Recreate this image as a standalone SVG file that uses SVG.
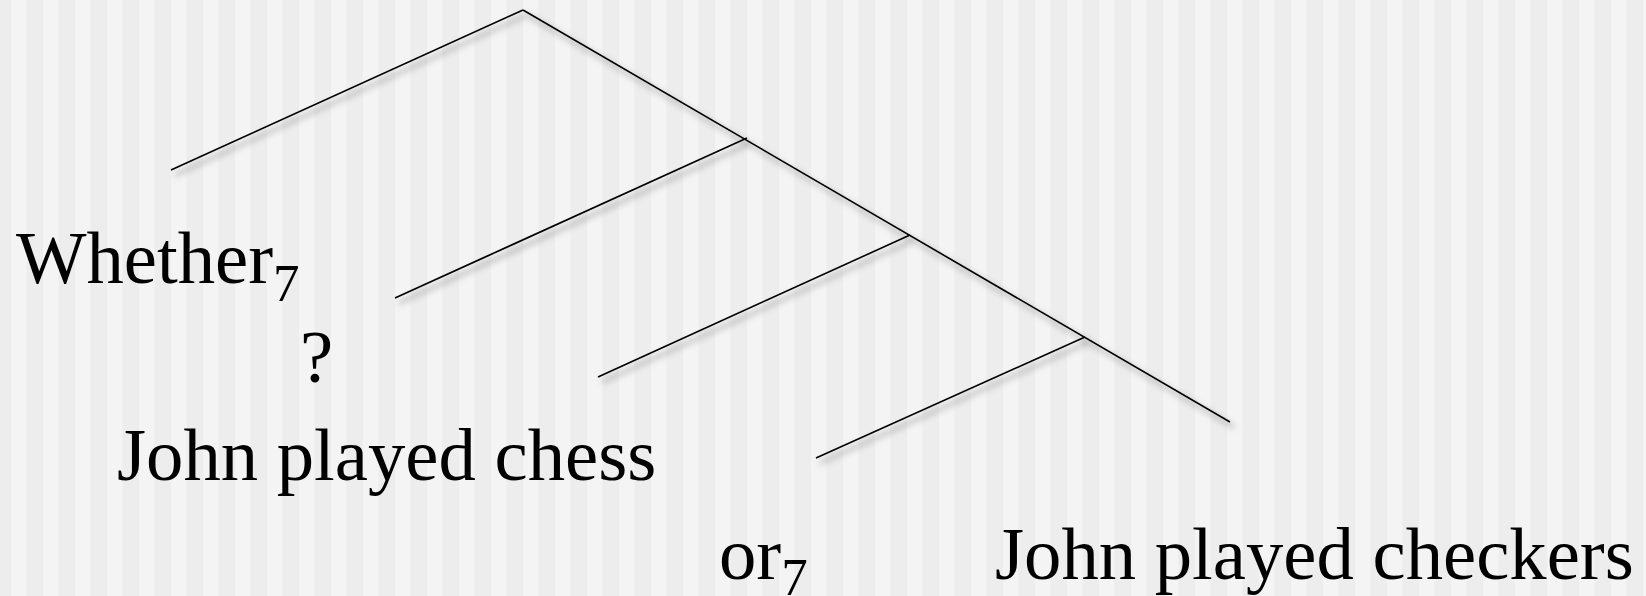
<svg xmlns="http://www.w3.org/2000/svg" width="1646" height="596" viewBox="0 0 1646 596">
  <defs>
    <pattern id="stripes" patternUnits="userSpaceOnUse" x="0" y="0" width="32" height="596">
      <rect x="0" y="0" width="32" height="596" fill="#ededed"/>
      <rect x="11" y="0" width="15.5" height="596" fill="#f4f4f4"/>
    </pattern>
    <filter id="shadow" x="-10%" y="-20%" width="130%" height="150%">
      <feDropShadow dx="4" dy="5" stdDeviation="3" flood-color="#000000" flood-opacity="0.5"/>
    </filter>
  </defs>
  <style>
    .edge { stroke: #000000; stroke-width: 1.6; fill: none; stroke-linecap: butt; }
    .label { font-family: "Liberation Serif", "Times New Roman", serif; font-size: 74.7px; fill: #000000; }
    .sub { font-size: 53px; }
  </style>
  <rect id="background" x="0" y="0" width="1646" height="596" fill="url(#stripes)"/>
  <g id="connectors" filter="url(#shadow)">
    <line class="edge" x1="523" y1="10" x2="171" y2="170"/>
    <line class="edge" x1="523" y1="10" x2="1230" y2="422"/>
    <line class="edge" x1="747" y1="138" x2="395" y2="298"/>
    <line class="edge" x1="910" y1="235" x2="598" y2="377"/>
    <line class="edge" x1="1085" y1="337" x2="816" y2="458"/>
  </g>
  <g id="node-whether">
    <text class="label" x="16" y="283">Whether<tspan class="sub" dy="18">7</tspan></text>
  </g>
  <g id="node-question">
    <text class="label" x="300" y="382">?</text>
  </g>
  <g id="node-chess">
    <text class="label" x="117" y="480">John played chess</text>
  </g>
  <g id="node-or">
    <text class="label" x="719" y="579">or<tspan class="sub" dy="16">7</tspan></text>
  </g>
  <g id="node-checkers">
    <text class="label" x="995" y="579">John played checkers</text>
  </g>
</svg>
